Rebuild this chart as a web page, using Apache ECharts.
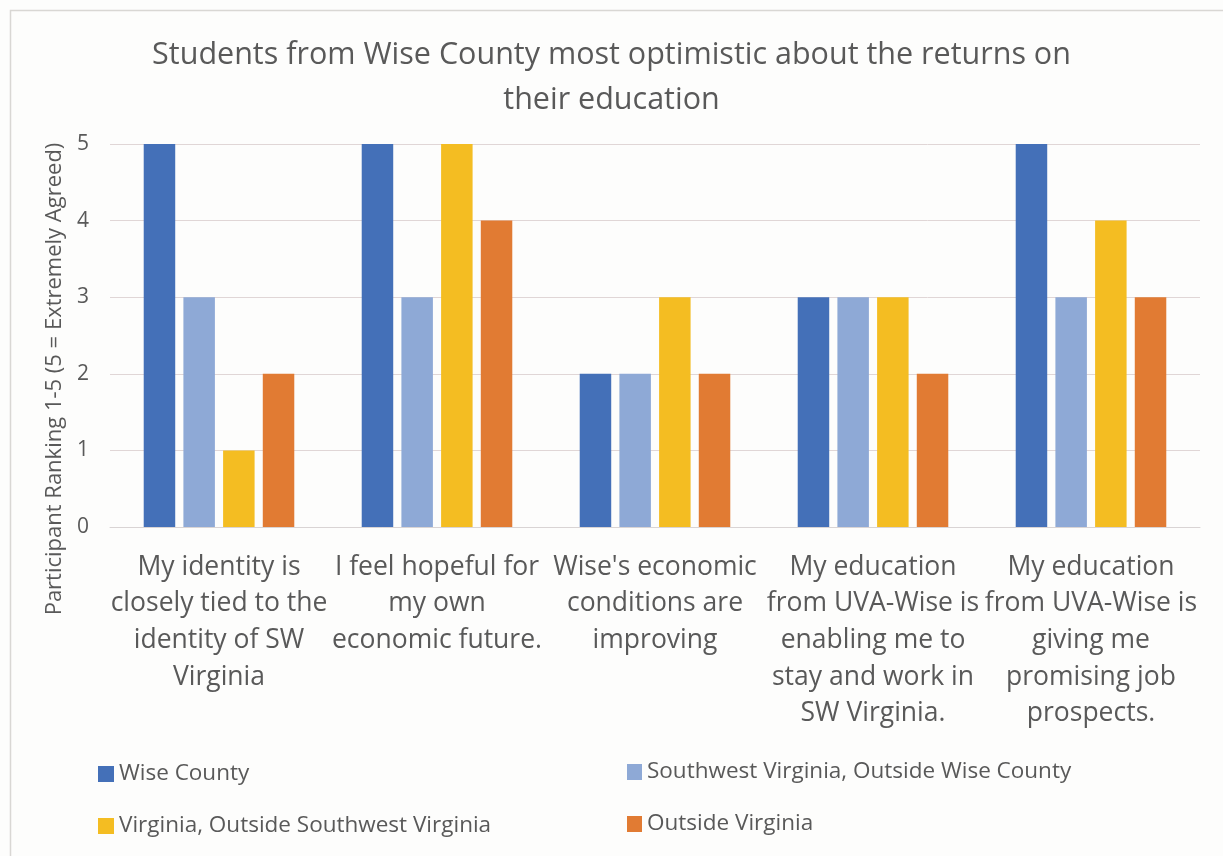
<!DOCTYPE html>
<html>
<head>
<meta charset="utf-8">
<script src="https://cdn.jsdelivr.net/npm/echarts@6/dist/echarts.min.js"></script>
<style>
  html, body { margin: 0; padding: 0; background: #fdfdfc; }
  #chart { width: 1223px; height: 856px; }
</style>
</head>
<body>
<div id="chart"></div>
<script>
// Survey statements (x-axis categories), wrapped as in the printed chart
const categories = [
  'My identity is\nclosely tied to the\nidentity of SW\nVirginia',
  'I feel hopeful for\nmy own\neconomic future.',
  "Wise's economic\nconditions are\nimproving",
  'My education\nfrom UVA-Wise is\nenabling me to\nstay and work in\nSW Virginia.',
  'My education\nfrom UVA-Wise is\ngiving me\npromising job\nprospects.'
];

// Mean participant ranking (1-5) per origin group
const wiseCounty = [5, 5, 2, 3, 5];
const swVirginiaOutsideWise = [3, 3, 2, 3, 3];
const virginiaOutsideSW = [1, 5, 3, 3, 4];
const outsideVirginia = [2, 4, 2, 2, 3];

const seriesNames = [
  'Wise County',
  'Southwest Virginia, Outside Wise County',
  'Virginia, Outside Southwest Virginia',
  'Outside Virginia'
];

const yTicks = [0, 1, 2, 3, 4, 5];

const FONT = '"Open Sans", sans-serif';
const TEXT = '#595959';
const colors = ['#4470b8', '#8ea9d6', '#f4bd22', '#e17b33'];

const chart = echarts.init(document.getElementById('chart'));

const bar = (name, data, color) => ({
  name, type: 'bar', data,
  barWidth: 31.5, barGap: '26%',
  itemStyle: { color },
  emphasis: { disabled: true }
});

const legendText = { color: TEXT, fontSize: 22.5, lineHeight: 30, fontFamily: FONT };

chart.setOption({
  backgroundColor: '#fdfdfc',
  animation: false,
  color: colors,
  textStyle: { fontFamily: FONT },
  title: {
    text: 'Students from Wise County most optimistic about the returns on\ntheir education',
    left: 'center', top: 28,
    textStyle: { fontFamily: FONT, fontSize: 30.5, fontWeight: 'normal', color: TEXT, lineHeight: 45, align: 'center' }
  },
  graphic: [{
    type: 'rect', left: 8, top: 8, silent: true,
    shape: { width: 1240, height: 880 },
    style: { fill: null, stroke: '#d9d7d4', lineWidth: 1.5 }
  }],
  grid: { left: 110, right: 23, top: 144, bottom: 329 },
  xAxis: {
    type: 'category', data: categories,
    axisTick: { show: false },
    axisLine: { lineStyle: { color: '#d9d4d4', width: 1 } },
    axisLabel: { interval: 0, color: TEXT, fontSize: 26.5, lineHeight: 36.6, margin: 22, fontFamily: FONT }
  },
  yAxis: {
    type: 'value', min: yTicks[0], max: yTicks[yTicks.length - 1], interval: 1,
    name: 'Participant Ranking 1-5 (5 = Extremely Agreed)',
    nameLocation: 'middle', nameRotate: 90, nameGap: 40,
    nameTextStyle: { color: TEXT, fontSize: 22, fontFamily: FONT, padding: [0, 87, 0, 0] },
    axisLine: { show: false }, axisTick: { show: false },
    axisLabel: { color: TEXT, fontSize: 21, margin: 21, fontFamily: FONT },
    splitLine: { lineStyle: { color: '#e0d6d6', width: 1 } }
  },
  legend: [{
    orient: 'vertical', left: 93, top: 754, itemGap: 22,
    itemWidth: 16, itemHeight: 16, icon: 'rect',
    data: [seriesNames[0], seriesNames[2]],
    textStyle: legendText
  }, {
    orient: 'vertical', left: 622, top: 752, itemGap: 22,
    itemWidth: 15, itemHeight: 16, icon: 'rect',
    data: [seriesNames[1], seriesNames[3]],
    textStyle: legendText
  }],
  series: [
    bar(seriesNames[0], wiseCounty, colors[0]),
    bar(seriesNames[1], swVirginiaOutsideWise, colors[1]),
    bar(seriesNames[2], virginiaOutsideSW, colors[2]),
    bar(seriesNames[3], outsideVirginia, colors[3])
  ]
});
</script>
</body>
</html>
